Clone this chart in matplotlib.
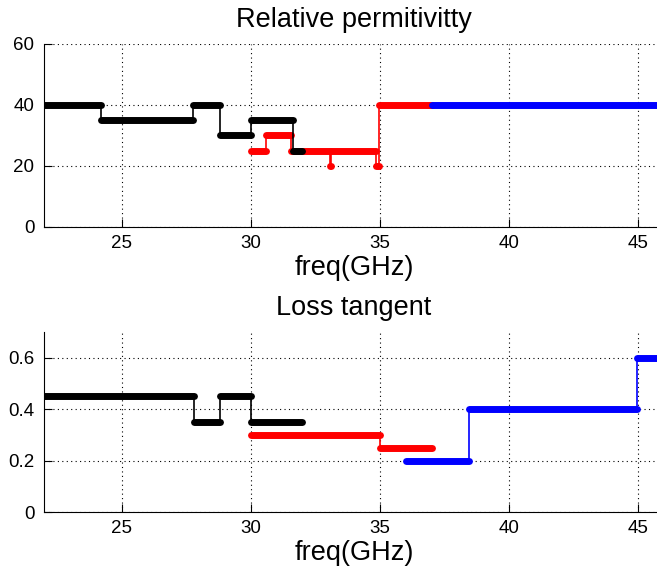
import matplotlib
matplotlib.use("Agg")
import matplotlib.pyplot as plt

# relative permittivity, step edges (GHz) and levels
perm_black_x = [22.0, 24.2, 27.75, 28.8, 30.0, 31.65, 32.0]
perm_black_y = [40, 35, 40, 30, 35, 25]
perm_red_x = [30.0, 30.6, 31.55, 33.05, 33.12, 34.85, 34.95, 37.0]
perm_red_y = [25, 30, 25, 20, 25, 20, 40]
perm_blue_x = [37.0, 46.0]
perm_blue_y = [40]

# loss tangent
loss_black_x = [22.0, 27.8, 28.8, 30.0, 32.0]
loss_black_y = [0.45, 0.35, 0.45, 0.35]
loss_red_x = [30.0, 35.0, 37.0]
loss_red_y = [0.3, 0.25]
loss_blue_x = [36.0, 38.45, 44.95, 46.0]
loss_blue_y = [0.2, 0.4, 0.6]

xticks = [25, 30, 35, 40, 45]
perm_yticks = [0, 20, 40, 60]
loss_yticks = [0, 0.2, 0.4, 0.6]
loss_yticklabels = ["0", "0.2", "0.4", "0.6"]

FONT = ["Liberation Sans", "DejaVu Sans"]
plt.rcParams["font.family"] = FONT


def draw_steps(ax, xs, ys, color):
    # thin step line with the flat parts drawn thick like dense markers
    px, py = [], []
    for i, y in enumerate(ys):
        px += [xs[i], xs[i + 1]]
        py += [y, y]
    ax.plot(px, py, color=color, lw=1.2, zorder=3)
    for i, y in enumerate(ys):
        ax.plot([xs[i], xs[i + 1]], [y, y], color=color, lw=5,
                solid_capstyle="round", zorder=3)


def style_axes(ax, ylim, yticks, title):
    ax.set_xlim(22, 46)
    ax.set_ylim(*ylim)
    ax.set_xticks(xticks)
    ax.set_yticks(yticks)
    ax.spines["top"].set_visible(False)
    ax.spines["right"].set_visible(False)
    ax.tick_params(direction="in", length=6, width=0.8, labelsize=13.5)
    ax.tick_params(axis="y", pad=7)
    ax.tick_params(axis="x", pad=6)
    ax.grid(True, color="black", linestyle=(0, (1, 3)), linewidth=0.8)
    ax.set_axisbelow(True)
    ax.set_title(title, fontsize=19.5, pad=12)
    ax.set_xlabel("freq(GHz)", fontsize=19.5, labelpad=2)


fig = plt.figure(figsize=(6.57, 5.76), dpi=100)
ax1 = fig.add_axes([0.067, 0.606, 0.944, 0.318])
ax2 = fig.add_axes([0.067, 0.111, 0.944, 0.3125])

draw_steps(ax1, perm_red_x, perm_red_y, "#ff0000")
draw_steps(ax1, perm_black_x, perm_black_y, "black")
draw_steps(ax1, perm_blue_x, perm_blue_y, "#0000ff")
style_axes(ax1, (0, 60), perm_yticks, "Relative permitivitty")

draw_steps(ax2, loss_black_x, loss_black_y, "black")
draw_steps(ax2, loss_red_x, loss_red_y, "#ff0000")
draw_steps(ax2, loss_blue_x, loss_blue_y, "#0000ff")
style_axes(ax2, (0, 0.7), loss_yticks, "Loss tangent")
ax2.set_yticklabels(loss_yticklabels)

fig.savefig("out.png", dpi=100)
